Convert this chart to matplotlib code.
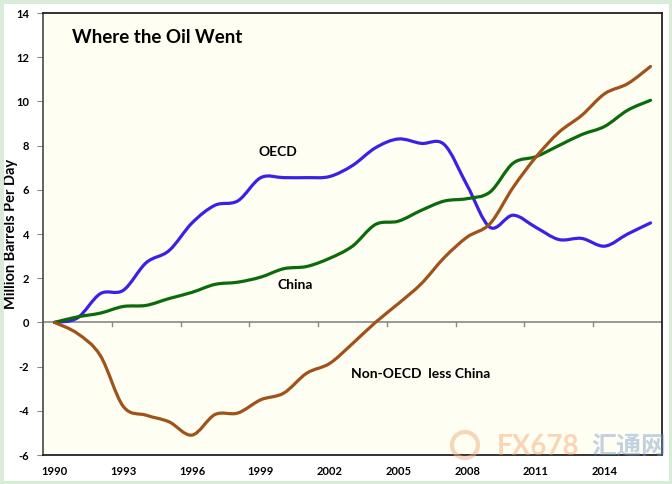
import numpy as np
import matplotlib.pyplot as plt
from matplotlib.patches import Rectangle, PathPatch, Ellipse
from matplotlib.path import Path

years = list(range(1990, 2017))

# million barrels per day, change since 1990
oecd = [0.0, 0.2, 1.3, 1.45, 2.7, 3.25, 4.5, 5.3, 5.5, 6.55, 6.55, 6.55, 6.6,
        7.1, 7.9, 8.3, 8.1, 8.05, 6.2, 4.3, 4.85, 4.3, 3.75, 3.8, 3.45, 4.0, 4.5]
china = [0.0, 0.25, 0.42, 0.72, 0.77, 1.08, 1.36, 1.72, 1.82, 2.05, 2.43, 2.53, 2.9,
         3.45, 4.43, 4.58, 5.07, 5.49, 5.6, 5.9, 7.2, 7.5, 8.0, 8.5, 8.87, 9.6, 10.05]
non_oecd = [0.0, -0.5, -1.5, -3.8, -4.2, -4.5, -5.1, -4.17, -4.1, -3.5, -3.2, -2.3, -1.86,
            -0.96, 0.0, 0.85, 1.75, 2.93, 3.86, 4.47, 6.1, 7.48, 8.6, 9.37, 10.35, 10.8, 11.58]

xlabels = [str(y) for y in range(1990, 2017, 3)]


def smooth_line(ax, x, y, color):
    # Excel-style smoothed line: bezier segments through the data points
    x = np.asarray(x, float)
    y = np.asarray(y, float)
    verts = [(x[0], y[0])]
    codes = [Path.MOVETO]
    n = len(x)
    for i in range(n - 1):
        p0 = i - 1 if i > 0 else i
        p3 = i + 2 if i + 2 < n else i + 1
        c1 = (x[i] + (x[i + 1] - x[p0]) / 6, y[i] + (y[i + 1] - y[p0]) / 6)
        c2 = (x[i + 1] - (x[p3] - x[i]) / 6, y[i + 1] - (y[p3] - y[i]) / 6)
        verts += [c1, c2, (x[i + 1], y[i + 1])]
        codes += [Path.CURVE4] * 3
    patch = PathPatch(Path(verts, codes), facecolor='none', edgecolor=color,
                      lw=2.3, capstyle='round', joinstyle='round', zorder=3)
    ax.add_patch(patch)


plt.rcParams['font.family'] = ['Lato', 'DejaVu Sans']

fig = plt.figure(figsize=(6.72, 4.84), dpi=100, facecolor='white')
ax = fig.add_axes([43/672, 1 - 455/484, (662-43)/672, (455-13)/484])
ax.set_facecolor('#fefef2')

smooth_line(ax, years, oecd, '#3b20e8')
smooth_line(ax, years, china, '#0b6b0b')
smooth_line(ax, years, non_oecd, '#a0521a')

ax.set_xlim(1989.5, 2016.5)
ax.set_ylim(-6, 14)

ax.set_yticks(np.arange(-6, 15, 2))
ax.set_yticklabels([str(v) for v in range(-6, 15, 2)], fontweight='bold', fontsize=8)
ax.tick_params(axis='y', direction='out', length=4, color='#888888', pad=6)

ax.set_xticks(range(1990, 2017, 3))
ax.set_xticklabels(xlabels, fontweight='bold', fontsize=8)
ax.tick_params(axis='x', length=0, pad=8)

# zero line with category tick marks
ax.axhline(0, color='#888888', lw=1.2, zorder=1)
for xt in np.arange(1992.5, 2017, 3):
    ax.plot([xt, xt], [0, -0.18], color='#888888', lw=1, zorder=1)

for side in ['top', 'right', 'bottom']:
    ax.spines[side].set_color('#222222')
    ax.spines[side].set_linewidth(1.3)
ax.spines['left'].set_color('#555555')
ax.spines['left'].set_linewidth(1.3)

ax.set_ylabel('Million Barrels Per Day', fontweight='bold', fontsize=10.5)
ax.yaxis.set_label_coords(-0.04, 0.5)

ax.text(1990.75, 12.9, 'Where the Oil Went', fontweight='bold', fontsize=13.5, va='center')
ax.text(1999.75, 7.7, 'OECD', fontweight='bold', fontsize=10, ha='center', va='center')
ax.text(2000.5, 1.7, 'China', fontweight='bold', fontsize=10, ha='center', va='center')
ax.text(2005.95, -2.33, 'Non-OECD  less China', fontweight='bold', fontsize=10,
        ha='center', va='center')

# faded watermark
fig.patches.append(Ellipse((465/672, 1 - 445/484), 26/672, 26/484,
                           transform=fig.transFigure, fill=False,
                           edgecolor='#f0b080', alpha=0.5, lw=3))
fig.text(0.80, 0.077, 'FX678', color='#f5a36a', alpha=0.45, fontsize=20,
         fontweight='bold', ha='center', va='center')
fig.text(0.935, 0.077, '汇通网', color='#7a9cc8', alpha=0.45, fontsize=18,
         fontweight='bold', ha='center', va='center', family=['Noto Sans CJK SC', 'DejaVu Sans'])

# light green frame around the picture
fig.patches.append(Rectangle((0, 0), 1, 1, transform=fig.transFigure, fill=False,
                             edgecolor='#d8ecd8', lw=5))

fig.savefig('out.png', dpi=100, facecolor=fig.get_facecolor())
